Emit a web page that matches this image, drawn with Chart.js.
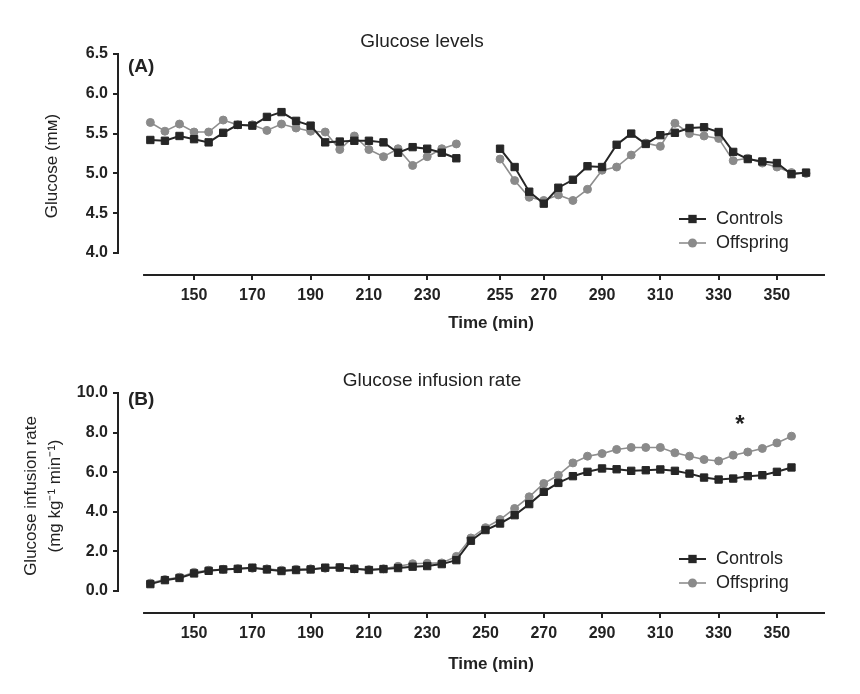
<!DOCTYPE html>
<html>
<head>
<meta charset="utf-8">
<script src="https://cdn.jsdelivr.net/npm/chart.js@4.4.0/dist/chart.umd.min.js"></script>
<style>
    html, body { margin: 0; padding: 0; background: #fff; }
    #wrap { position: relative; width: 860px; height: 694px; }
    canvas { position: absolute; left: 0; }
    #chartA { top: 0; }
    #chartB { top: 347px; }
</style>
</head>
<body>
<div id="wrap">
    <canvas id="chartA" width="860" height="347"></canvas>
    <canvas id="chartB" width="860" height="347"></canvas>
</div>
<script>
    // Panel A: glucose levels (two sampling periods)
    var timeA1 = [135, 140, 145, 150, 155, 160, 165, 170, 175, 180, 185, 190, 195, 200, 205, 210, 215, 220, 225, 230, 235, 240];
    var controlsA1 = [5.42, 5.41, 5.47, 5.43, 5.39, 5.51, 5.61, 5.60, 5.71, 5.77, 5.66, 5.60, 5.39, 5.40, 5.41, 5.41, 5.39, 5.26, 5.33, 5.31, 5.26, 5.19];
    var offspringA1 = [5.64, 5.53, 5.62, 5.52, 5.52, 5.67, 5.61, 5.61, 5.54, 5.62, 5.57, 5.53, 5.52, 5.30, 5.47, 5.30, 5.21, 5.31, 5.10, 5.21, 5.31, 5.37];

    var timeA2 = [255, 260, 265, 270, 275, 280, 285, 290, 295, 300, 305, 310, 315, 320, 325, 330, 335, 340, 345, 350, 355, 360];
    var controlsA2 = [5.31, 5.08, 4.77, 4.62, 4.82, 4.92, 5.09, 5.08, 5.36, 5.50, 5.37, 5.48, 5.51, 5.57, 5.58, 5.52, 5.27, 5.18, 5.15, 5.13, 4.99, 5.01];
    var offspringA2 = [5.18, 4.91, 4.70, 4.66, 4.73, 4.66, 4.80, 5.04, 5.08, 5.23, 5.38, 5.34, 5.63, 5.50, 5.47, 5.44, 5.16, 5.19, 5.13, 5.08, 5.01, 5.00];

    var xTicksA = [150, 170, 190, 210, 230, 255, 270, 290, 310, 330, 350];
    var yTicksA = [4.0, 4.5, 5.0, 5.5, 6.0, 6.5];

    // Panel B: glucose infusion rate
    var timeB = [135, 140, 145, 150, 155, 160, 165, 170, 175, 180, 185, 190, 195, 200, 205, 210, 215, 220, 225, 230, 235, 240,
        245, 250, 255, 260, 265, 270, 275, 280, 285, 290, 295, 300, 305, 310, 315, 320, 325, 330, 335, 340, 345, 350, 355];
    var controlsB = [0.35, 0.55, 0.66, 0.89, 1.02, 1.09, 1.12, 1.18, 1.09, 1.01, 1.06, 1.09, 1.18, 1.19, 1.12, 1.06, 1.11, 1.16, 1.23, 1.26, 1.36, 1.56,
        2.54, 3.08, 3.41, 3.83, 4.39, 5.01, 5.46, 5.80, 6.02, 6.19, 6.15, 6.07, 6.10, 6.14, 6.07, 5.93, 5.73, 5.63, 5.68, 5.80, 5.85, 6.02, 6.24];
    var offspringB = [0.40, 0.58, 0.70, 0.95, 1.05, 1.10, 1.13, 1.15, 1.12, 1.05, 1.10, 1.12, 1.15, 1.18, 1.12, 1.08, 1.12, 1.25, 1.38, 1.40, 1.42, 1.75,
        2.68, 3.20, 3.61, 4.17, 4.76, 5.43, 5.85, 6.47, 6.81, 6.94, 7.15, 7.25, 7.25, 7.25, 6.98, 6.81, 6.64, 6.57, 6.86, 7.02, 7.20, 7.48, 7.82];

    var xTicksB = [150, 170, 190, 210, 230, 250, 270, 290, 310, 330, 350];
    var yTicksB = [0, 2, 4, 6, 8, 10];

    var FONT = '"Liberation Sans", Arial, sans-serif';
    var INK = '#222';

    function toPoints(times, values) {
        return times.map(function(t, i) { return { x: t, y: values[i] }; });
    }

    // join two sampling periods with a null so the line breaks in between
    function joinPeriods(t1, v1, t2, v2) {
        return toPoints(t1, v1).concat([{ x: (t1[t1.length - 1] + t2[0]) / 2, y: null }], toPoints(t2, v2));
    }

    function seriesStyle(name) {
        if (name === 'Controls') {
            return {
                label: 'Controls', borderColor: '#262626', backgroundColor: '#262626', borderWidth: 2,
                pointStyle: 'rect', pointRadius: 5.2, pointBorderWidth: 1, pointBackgroundColor: '#262626', pointBorderColor: '#262626'
            };
        }
        return {
            label: 'Offspring', borderColor: '#8e8e8e', backgroundColor: '#8e8e8e', borderWidth: 1.6,
            pointStyle: 'circle', pointRadius: 4, pointBorderWidth: 1, pointBackgroundColor: '#8a8a8a', pointBorderColor: '#8a8a8a'
        };
    }

    // axis lines, titles, legend and marks that Chart.js has no option for
    var decorPlugin = {
        id: 'decor',
        afterDraw: function(chart) {
            var o = chart.options.plugins.decor;
            var ctx = chart.ctx;
            var xs = chart.scales.x;
            var ys = chart.scales.y;
            var area = chart.chartArea;

            ctx.save();
            ctx.strokeStyle = INK;
            ctx.lineWidth = 2;
            ctx.lineCap = 'square';
            ctx.beginPath();
            ctx.moveTo(area.left, ys.getPixelForValue(o.yFrom));
            ctx.lineTo(area.left, ys.getPixelForValue(o.yTo));
            ctx.stroke();
            ctx.lineCap = 'butt';
            ctx.beginPath();
            ctx.moveTo(xs.getPixelForValue(o.xFrom), area.bottom);
            ctx.lineTo(area.right, area.bottom);
            ctx.stroke();

            ctx.fillStyle = INK;
            ctx.textBaseline = 'middle';

            // chart title
            ctx.font = '19px ' + FONT;
            ctx.textAlign = 'center';
            ctx.fillText(o.title.text, o.title.x, o.title.y);

            // panel letter
            ctx.font = 'bold 19px ' + FONT;
            ctx.textAlign = 'left';
            ctx.fillText(o.panel.text, o.panel.x, o.panel.y);

            // x axis title
            ctx.font = 'bold 17px ' + FONT;
            ctx.textAlign = 'center';
            ctx.fillText(o.xTitle.text, o.xTitle.x, o.xTitle.y);

            // y axis title (one or more rotated lines)
            ctx.font = '17px ' + FONT;
            o.yTitle.lines.forEach(function(line) {
                ctx.save();
                ctx.translate(line.x, o.yTitle.y);
                ctx.rotate(-Math.PI / 2);
                ctx.fillText(line.text, 0, 0);
                ctx.restore();
            });

            // legend
            ctx.font = '18px ' + FONT;
            ctx.textAlign = 'left';
            chart.data.datasets.forEach(function(ds, i) {
                var ly = o.legend.rows[i];
                var lx = o.legend.x;
                ctx.strokeStyle = ds.borderColor;
                ctx.lineWidth = ds.borderWidth;
                ctx.beginPath();
                ctx.moveTo(lx, ly);
                ctx.lineTo(lx + 27, ly);
                ctx.stroke();
                ctx.fillStyle = ds.pointBackgroundColor;
                ctx.beginPath();
                if (ds.pointStyle === 'rect') {
                    var s = ds.pointRadius * Math.SQRT1_2 + 0.5;
                    ctx.rect(lx + 13.5 - s, ly - s, 2 * s, 2 * s);
                } else {
                    ctx.arc(lx + 13.5, ly, ds.pointRadius + 0.5, 0, Math.PI * 2);
                }
                ctx.fill();
                ctx.fillStyle = INK;
                ctx.fillText(ds.label, lx + 37, ly);
            });

            // significance mark
            if (o.star) {
                ctx.font = 'bold 24px ' + FONT;
                ctx.textAlign = 'center';
                ctx.fillText('*', xs.getPixelForValue(o.star.x), ys.getPixelForValue(o.star.y));
            }
            ctx.restore();
        }
    };

    function makeChart(id, cfg) {
        return new Chart(document.getElementById(id), {
            type: 'line',
            data: { datasets: cfg.datasets },
            plugins: [decorPlugin],
            options: {
                responsive: false,
                animation: false,
                spanGaps: false,
                layout: { padding: { top: cfg.top, right: 35, left: 0, bottom: 0 } },
                elements: { line: { tension: 0 } },
                plugins: {
                    legend: { display: false },
                    tooltip: { enabled: false },
                    decor: cfg.decor
                },
                scales: {
                    x: {
                        type: 'linear',
                        min: cfg.xMin,
                        max: cfg.xMax,
                        border: { display: false },
                        grid: { drawOnChartArea: false, drawTicks: true, tickLength: 5, color: INK, lineWidth: 2 },
                        ticks: {
                            color: INK, padding: 6, maxRotation: 0, autoSkip: false,
                            font: { family: FONT, size: 16, weight: 'bold' },
                            callback: function(v) { return String(v); }
                        },
                        afterBuildTicks: function(scale) {
                            scale.ticks = cfg.xTicks.map(function(v) { return { value: v }; });
                        },
                        afterFit: function(scale) { scale.height = cfg.xHeight; }
                    },
                    y: {
                        min: cfg.yMin,
                        max: cfg.yMax,
                        border: { display: false },
                        grid: { drawOnChartArea: false, drawTicks: true, tickLength: 5, color: INK, lineWidth: 2 },
                        ticks: {
                            color: INK, padding: 5,
                            font: { family: FONT, size: 16, weight: 'bold' },
                            callback: function(v) { return Number(v).toFixed(1); }
                        },
                        afterBuildTicks: function(scale) {
                            scale.ticks = cfg.yTicks.map(function(v) { return { value: v }; });
                        },
                        afterFit: function(scale) { scale.width = 118; }
                    }
                }
            }
        });
    }

    var controlsStyleA = seriesStyle('Controls');
    controlsStyleA.data = joinPeriods(timeA1, controlsA1, timeA2, controlsA2);
    var offspringStyleA = seriesStyle('Offspring');
    offspringStyleA.data = joinPeriods(timeA1, offspringA1, timeA2, offspringA2);

    makeChart('chartA', {
        datasets: [controlsStyleA, offspringStyleA],
        top: 54,
        xHeight: 72,
        xMin: 123.9, xMax: 366.5,
        yMin: 3.7236, yMax: 6.5,
        xTicks: xTicksA,
        yTicks: yTicksA,
        decor: {
            xFrom: 132.5, yFrom: 4.0, yTo: 6.5,
            title: { text: 'Glucose levels', x: 422, y: 42 },
            panel: { text: '(A)', x: 128, y: 67 },
            xTitle: { text: 'Time (min)', x: 491, y: 323 },
            yTitle: { y: 166, lines: [{ text: 'Glucose (m\u1D0D)', x: 52 }] },
            legend: { x: 679, rows: [219, 243] }
        }
    });

    var controlsStyleB = seriesStyle('Controls');
    controlsStyleB.data = toPoints(timeB, controlsB);
    var offspringStyleB = seriesStyle('Offspring');
    offspringStyleB.data = toPoints(timeB, offspringB);

    makeChart('chartB', {
        datasets: [controlsStyleB, offspringStyleB],
        top: 46,
        xHeight: 81,
        xMin: 123.9, xMax: 366.5,
        yMin: -1.109, yMax: 10,
        xTicks: xTicksB,
        yTicks: yTicksB,
        decor: {
            xFrom: 132.5, yFrom: 0, yTo: 10,
            title: { text: 'Glucose infusion rate', x: 432, y: 34 },
            panel: { text: '(B)', x: 128, y: 53 },
            xTitle: { text: 'Time (min)', x: 491, y: 317 },
            yTitle: { y: 149, lines: [
                { text: 'Glucose infusion rate', x: 31 },
                { text: '(mg kg\u207B\u00B9 min\u207B\u00B9)', x: 55 }
            ] },
            legend: { x: 679, rows: [212, 236] },
            star: { x: 337.3, y: 8.37 }
        }
    });
</script>
</body>
</html>
